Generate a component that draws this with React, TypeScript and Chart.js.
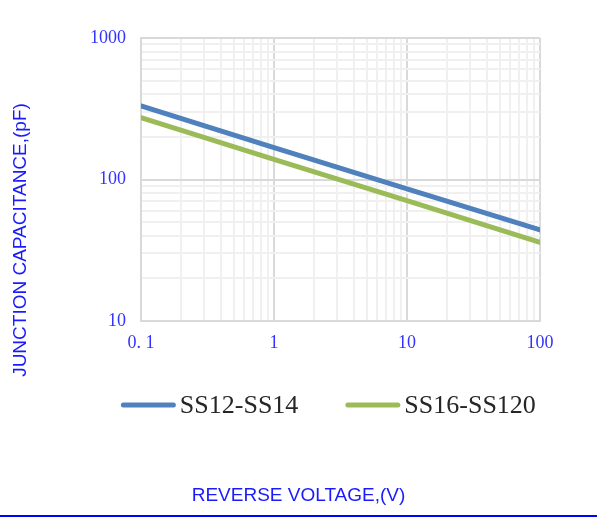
import React, { useEffect, useRef } from "react";
import { Chart, registerables } from "chart.js";

Chart.register(...registerables);

// ---- data ----
const voltages = [0.1, 1, 10, 100];
const capSS12_SS14 = [331, 168, 86, 44];
const capSS16_SS120 = [274, 139, 71, 36];
const seriesNames = ["SS12-SS14", "SS16-SS120"];
const seriesColors = ["#4f81bd", "#9bbb59"];

const xMajorTicks = [0.1, 1, 10, 100];
const xTickLabels = ["0. 1", "1", "10", "100"];
const yMajorTicks = [10, 100, 1000];
const yTickLabels = ["10", "100", "1000"];
const mantissas = [1, 2, 3, 4, 5, 6, 7, 8, 9];

const xTitle = "REVERSE VOLTAGE,(V)";
const yTitle = "JUNCTION CAPACITANCE,(pF)";

// ---- helpers ----
const gridValues = (majors: number[]) => {
  const out: number[] = [];
  for (let i = 0; i < majors.length - 1; i++) {
    for (const m of mantissas) out.push(Number((majors[i] * m).toPrecision(6)));
  }
  out.push(majors[majors.length - 1]);
  return out;
};
const majorIndex = (majors: number[], v: number) =>
  majors.findIndex((m) => Math.abs(v / m - 1) < 1e-9);

const xGrid = gridValues(xMajorTicks);
const yGrid = gridValues(yMajorTicks);

const TICK_COLOR = "#3333ff";
const TITLE_COLOR = "#1a1aff";
const MAJOR_GRID = "#d9d9d9";
const MINOR_GRID = "#f0f0f0";
const TITLE_FONT = '19px "Liberation Sans"';

const decorPlugin = {
  id: "decor",
  afterDraw(chart: any) {
    const ctx = chart.ctx as CanvasRenderingContext2D;
    ctx.save();
    // legend
    ctx.font = '26px "Liberation Serif"';
    const sample = 55;
    const gap = 4;
    const itemGap = 47;
    const items = chart.data.datasets.map((ds: any) => ({
      text: ds.label as string,
      color: ds.borderColor as string,
      w: ctx.measureText(ds.label).width,
    }));
    const total =
      items.reduce((s: number, it: any) => s + sample + gap + it.w, 0) +
      itemGap * (items.length - 1);
    let x = chart.width * 0.55 - total / 2;
    const y = 405;
    for (const it of items) {
      ctx.strokeStyle = it.color;
      ctx.lineWidth = 5;
      ctx.lineCap = "round";
      ctx.beginPath();
      ctx.moveTo(x + 2.5, y);
      ctx.lineTo(x + sample - 2.5, y);
      ctx.stroke();
      x += sample + gap;
      ctx.fillStyle = "#262626";
      ctx.textBaseline = "middle";
      ctx.textAlign = "left";
      ctx.fillText(it.text, x, y + 1);
      x += it.w + itemGap;
    }
    // axis titles
    ctx.font = TITLE_FONT;
    ctx.fillStyle = TITLE_COLOR;
    ctx.textAlign = "center";
    ctx.textBaseline = "middle";
    ctx.fillText(xTitle, chart.width / 2, 496);
    ctx.translate(21, 240);
    ctx.rotate(-Math.PI / 2);
    ctx.fillText(yTitle, 0, 0);
    ctx.restore();
  },
};

const gridColor = (c: any) => (c.tick && c.tick.major ? MAJOR_GRID : MINOR_GRID);

export default function App() {
  const ref = useRef<HTMLCanvasElement>(null);

  useEffect(() => {
    document.body.style.margin = "0";
    if (!ref.current) return;
    const chart = new Chart(ref.current, {
      type: "line",
      data: {
        datasets: [capSS12_SS14, capSS16_SS120].map((vals, i) => ({
          label: seriesNames[i],
          data: voltages.map((v, j) => ({ x: v, y: vals[j] })),
          borderColor: seriesColors[i],
          backgroundColor: seriesColors[i],
          borderWidth: 5,
          borderCapStyle: "round" as const,
          pointRadius: 0,
          tension: 0,
        })),
      },
      options: {
        animation: false,
        responsive: false,
        maintainAspectRatio: false,
        layout: { padding: { left: 10, top: 38, right: 57, bottom: 161 } },
        plugins: {
          legend: { display: false },
          tooltip: { enabled: false },
        },
        scales: {
          x: {
            type: "logarithmic",
            min: 0.1,
            max: 100,
            afterBuildTicks: (scale: any) => {
              scale.ticks = xGrid.map((v) => ({ value: v, major: majorIndex(xMajorTicks, v) >= 0 }));
            },
            afterFit: (scale: any) => {
              scale.height = 33;
            },
            ticks: {
              autoSkip: false,
              maxRotation: 0,
              padding: 11,
              color: TICK_COLOR,
              font: { family: '"Liberation Serif"', size: 18 },
              callback: (value: any) => {
                const k = majorIndex(xMajorTicks, Number(value));
                return k >= 0 ? xTickLabels[k] : "";
              },
            },
            grid: {
              drawTicks: false,
              lineWidth: 2,
              color: gridColor,
            },
            border: { color: MAJOR_GRID, width: 2 },
          },
          y: {
            type: "logarithmic",
            min: 10,
            max: 1000,
            afterBuildTicks: (scale: any) => {
              scale.ticks = yGrid.map((v) => ({ value: v, major: majorIndex(yMajorTicks, v) >= 0 }));
            },
            afterFit: (scale: any) => {
              scale.width = 131;
            },
            ticks: {
              autoSkip: false,
              padding: 15,
              color: TICK_COLOR,
              font: { family: '"Liberation Serif"', size: 18 },
              callback: (value: any) => {
                const k = majorIndex(yMajorTicks, Number(value));
                return k >= 0 ? yTickLabels[k] : "";
              },
            },
            grid: {
              drawTicks: false,
              lineWidth: 2,
              color: gridColor,
            },
            border: { color: MAJOR_GRID, width: 2 },
          },
        },
      },
      plugins: [decorPlugin],
    });
    return () => chart.destroy();
  }, []);

  return (
    <div style={{ width: 597, height: 515, borderBottom: "2px solid #0000ff", background: "#fff" }}>
      <canvas ref={ref} width={597} height={515} style={{ display: "block" }} />
    </div>
  );
}
